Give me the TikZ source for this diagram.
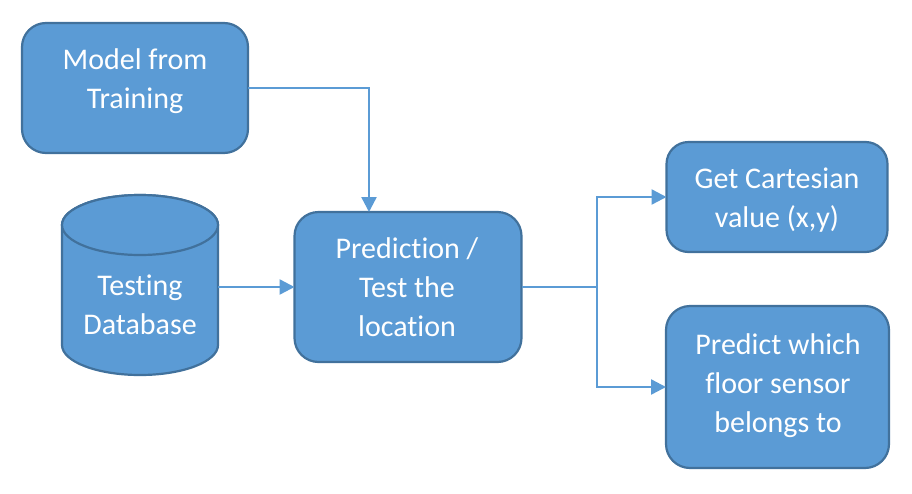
\documentclass[tikz,border=0pt]{standalone}
\usepackage{fontspec}
\setmainfont{Carlito}[Ligatures={NoCommon,NoContextual}]
\usetikzlibrary{arrows.meta}
\definecolor{boxfill}{HTML}{5B9BD5}
\definecolor{boxline}{HTML}{41719C}
\definecolor{conn}{HTML}{5B9BD5}
\tikzset{
  box/.style={draw=boxline, fill=boxfill, line width=2.2pt, rounded corners=24pt, inner sep=0pt, outer sep=0pt},
  label/.style={text=white, align=center, inner sep=0pt, font=\fontsize{30}{39}\selectfont},
  conn/.style={draw=conn, line width=2.4pt},
  arr/.style={conn, -{Triangle[length=15pt,width=15pt]}}
}
\begin{document}
\begin{tikzpicture}[x=1pt,y=-1pt]
\useasboundingbox (0,0) rectangle (912,493);
% boxes
\node[box, minimum width=226pt, minimum height=130pt] (model) at (135,88) {};
\node[label] (modelt) at (135,80.7) {\strut Model from\\\strut Training};
\node[box, minimum width=227pt, minimum height=150pt] (pred) at (408,287) {};
\node[label] (predt) at (407,289.2) {\strut Prediction /\\\strut Test the\\\strut location};
\node[box, rounded corners=22pt, minimum width=221pt, minimum height=110pt] (get) at (777,197) {};
\node[label] (gett) at (777,199.7) {\strut Get Cartesian\\\strut value (x,y)};
\node[box, minimum width=223pt, minimum height=162pt] (floor) at (777.5,387) {};
\node[label] (floort) at (778,385.2) {\strut Predict which\\\strut floor sensor\\\strut belongs to};
% cylinder
\node[inner sep=0pt, outer sep=0pt, minimum width=156pt, minimum height=120pt] (db) at (140,287) {};
\draw[draw=boxline, fill=boxfill, line width=2.2pt]
  (62,225) -- (62,345) arc[start angle=180, end angle=360, x radius=78pt, y radius=30pt]
  -- (218,225) arc[start angle=0, end angle=180, x radius=78pt, y radius=30pt] -- cycle;
\draw[draw=boxline, fill=boxfill, line width=2.2pt]
  (140,225) ellipse[x radius=78pt, y radius=30pt];
\node[label] (dbt) at (140,306.7) {\strut Testing\\\strut Database};
% connectors
\coordinate (split) at (597,287);
\draw[arr] (model.east) -| ([xshift=-39pt]pred.north);
\draw[arr] (db.east |- pred.west) -- (pred.west);
\draw[conn] (pred.east) -- (split);
\draw[arr] (split) |- (get.west);
\draw[arr] (split) |- (floor.west);
\end{tikzpicture}
\end{document}
